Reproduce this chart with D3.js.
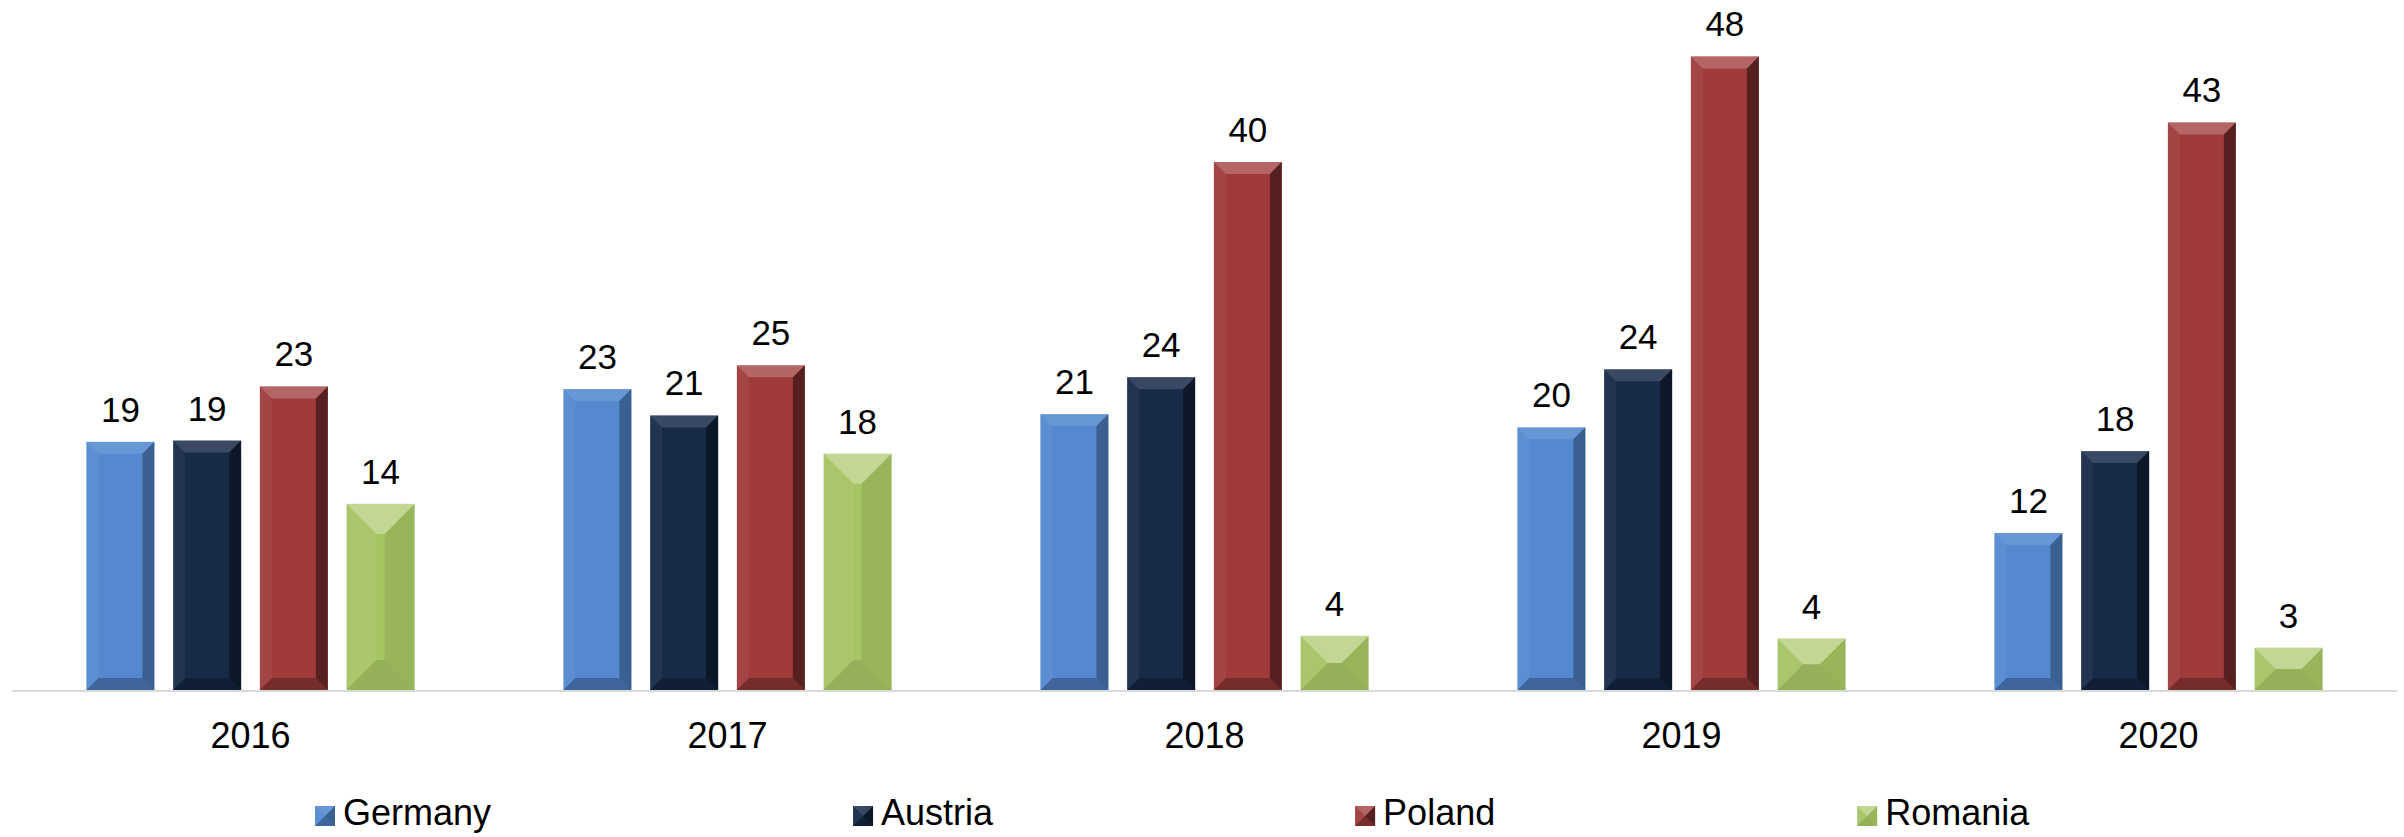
<!DOCTYPE html>
<html>
<head>
<meta charset="utf-8">
<script src="https://cdn.jsdelivr.net/npm/d3@7"></script>
<style>
  body { margin: 0; background: #fff; }
  text { font-family: "Liberation Sans", Arial, sans-serif; fill: #000; }
</style>
</head>
<body>
<div id="chart"></div>
<script>
var years = ["2016", "2017", "2018", "2019", "2020"];
var countries = ["Germany", "Austria", "Poland", "Romania"];

// values per country, one per year (labels show rounded numbers)
var germany = [18.8, 22.8, 20.9, 19.9, 11.9];
var austria = [18.9, 20.8, 23.7, 24.3, 18.1];
var poland  = [23.0, 24.6, 40.0, 48.0, 43.0];
var romania = [14.1, 17.9, 4.1, 3.9, 3.2];

var seriesValues = [germany, austria, poland, romania];

var width = 2404,
    height = 837,
    margin = {top: 30, left: 12, right: 7, baseline: 690};

// base colour + bevel look per series
var color = d3.scaleOrdinal(countries, ["#5489d0", "#172a48", "#9f3b3b", "#a5c562"]);
var bevelDepth = d3.scaleOrdinal(countries, [12, 12, 12, 30]);
var topLight = d3.scaleOrdinal(countries, [0.12, 0.15, 0.22, 0.32]);
var rightDark = d3.scaleOrdinal(countries, [0.3, 0.45, 0.45, 0.08]);
var bottomDark = d3.scaleOrdinal(countries, [0.25, 0.25, 0.25, 0.1]);

var data = [];
years.forEach(function(y, i) {
  countries.forEach(function(c, j) {
    data.push({year: y, country: c, value: seriesValues[j][i]});
  });
});

var svg = d3.select("#chart").append("svg")
  .attr("width", width)
  .attr("height", height);

svg.append("rect").attr("width", width).attr("height", height).attr("fill", "#fff");

var x0 = d3.scaleBand()
  .domain(years)
  .range([margin.left, width - margin.right])
  .paddingInner(0.312)
  .paddingOuter(0.156);

var x1 = d3.scaleBand()
  .domain(countries)
  .range([0, x0.bandwidth()])
  .paddingInner(0.216);

var y = d3.scaleLinear()
  .domain([0, 50])
  .range([margin.baseline, margin.top]);

// bevelled bar: base rect + four shaded facets
function drawBevel(g, bx, by, bw, bh, depth, series) {
  var d = Math.min(depth, bw / 2, bh / 2);
  g.append("rect")
    .attr("x", bx).attr("y", by)
    .attr("width", bw).attr("height", bh)
    .attr("fill", color(series));
  var facets = [
    {pts: [[bx, by], [bx + bw, by], [bx + bw - d, by + d], [bx + d, by + d]], fill: "#fff", op: topLight(series)},
    {pts: [[bx, by + bh], [bx + bw, by + bh], [bx + bw - d, by + bh - d], [bx + d, by + bh - d]], fill: "#000", op: bottomDark(series)},
    {pts: [[bx, by], [bx + d, by + d], [bx + d, by + bh - d], [bx, by + bh]], fill: "#fff", op: 0.05},
    {pts: [[bx + bw, by], [bx + bw - d, by + d], [bx + bw - d, by + bh - d], [bx + bw, by + bh]], fill: "#000", op: rightDark(series)}
  ];
  facets.forEach(function(f) {
    g.append("path")
      .attr("d", "M" + f.pts.map(function(p) { return p.join(","); }).join("L") + "Z")
      .attr("fill", f.fill)
      .attr("fill-opacity", f.op);
  });
}

// axis line
svg.append("line")
  .attr("x1", margin.left).attr("x2", width - margin.right)
  .attr("y1", y(0) + 1).attr("y2", y(0) + 1)
  .attr("stroke", "#d9d9d9")
  .attr("stroke-width", 2);

var bars = svg.append("g").attr("class", "bars");
data.forEach(function(d) {
  var bx = x0(d.year) + x1(d.country),
      by = y(d.value),
      bh = y(0) - y(d.value);
  drawBevel(bars.append("g"), bx, by, x1.bandwidth(), bh, bevelDepth(d.country), d.country);
});

// value labels
svg.append("g").selectAll("text")
  .data(data)
  .enter().append("text")
  .attr("x", function(d) { return x0(d.year) + x1(d.country) + x1.bandwidth() / 2; })
  .attr("y", function(d) { return y(d.value) - 20; })
  .attr("text-anchor", "middle")
  .style("font-size", "35px")
  .text(function(d) { return d3.format(".0f")(d.value); });

// year labels
svg.append("g").selectAll("text")
  .data(years)
  .enter().append("text")
  .attr("x", function(d) { return x0(d) + x0.bandwidth() / 2; })
  .attr("y", 748)
  .attr("text-anchor", "middle")
  .style("font-size", "36px")
  .text(function(d) { return d; });

// legend
var legend = svg.append("g").attr("class", "legend");
var lx = 315, gap = 362;
countries.forEach(function(c) {
  var item = legend.append("g").attr("transform", "translate(" + lx + ",806)");
  drawBevel(item, 0, 0, 20, 20, 10, c);
  var t = item.append("text")
    .attr("x", 28)
    .attr("y", 19)
    .style("font-size", "36px")
    .text(c);
  lx += 28 + t.node().getComputedTextLength() + gap;
});
</script>
</body>
</html>
